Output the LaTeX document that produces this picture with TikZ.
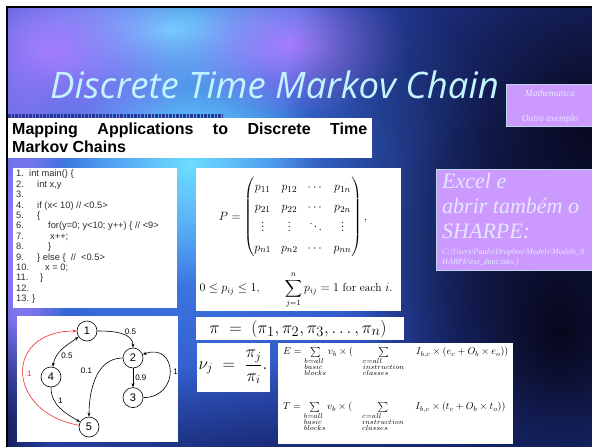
\documentclass[tikz,border=0pt]{standalone}
\usepackage{amsmath}
\usepackage{fontspec}
\usetikzlibrary{arrows.meta, positioning, fadings}

\newfontfamily\titlefont{Open Sans}
\newfontfamily\armfont{Liberation Sans}
\newfontfamily\tmsfont{Liberation Serif}

\definecolor{bgbase}{RGB}{40,68,180}
\definecolor{bgblue}{RGB}{70,140,245}
\definecolor{bgcyan}{RGB}{110,220,255}
\definecolor{bgpurple}{RGB}{165,125,255}
\definecolor{bgdark}{RGB}{8,8,28}
\definecolor{bgnavy}{RGB}{18,28,85}
\definecolor{titlecol}{RGB}{195,245,255}
\definecolor{lilac}{RGB}{204,153,255}
\definecolor{lilacedge}{RGB}{190,215,235}
\definecolor{lilactext}{RGB}{228,232,255}
\definecolor{codegray}{RGB}{45,45,45}
\definecolor{stripcol}{RGB}{40,55,150}
\definecolor{edgered}{RGB}{240,45,45}

\tikzfading[name=softglow, inner color=transparent!0, outer color=transparent!100]

% one line of the listing: indent, number, code
\newcommand{\cl}[3]{\makebox[#1pt][l]{#2}#3}

\begin{document}
\begin{tikzpicture}[
    x=1pt, y=-1pt,
    whitebox/.style={fill=white, inner sep=0pt, anchor=north west},
    lilacbox/.style={fill=lilac, draw=lilacedge, line width=0.8pt, inner sep=0pt, anchor=north west},
    glow/.style={path fading=softglow},
    state/.style={circle, draw, line width=0.6pt, fill=white, minimum size=20pt, inner sep=0pt, font=\armfont\fontsize{11}{11}\selectfont},
    prob/.style={font=\armfont\fontsize{8}{8}\selectfont, inner sep=1pt},
    arc/.style={draw, line width=0.6pt, -{Stealth[length=4pt, width=3pt]}},
    arcboth/.style={draw, line width=0.6pt, {Stealth[length=4pt, width=3pt]}-{Stealth[length=4pt, width=3pt]}}
]
\useasboundingbox (0,0) rectangle (592,447);
\fill[white] (0,0) rectangle (592,447);

% slide background
\fill[bgbase] (7,7) rectangle (592,447);
\begin{scope}
    \clip (7,7) rectangle (592,447);
    \fill[bgblue, glow] (170,190) ellipse (330 and 300);
    \fill[bgcyan, glow] (190,165) ellipse (130 and 120);
    \fill[bgcyan, glow] (170,30) ellipse (170 and 60);
    \fill[bgpurple, glow] (50,50) ellipse (150 and 110);
    \fill[bgpurple, glow] (290,45) ellipse (120 and 70);
    \fill[bgpurple, glow] (20,250) ellipse (50 and 200);
    \fill[bgdark, glow] (600,120) ellipse (320 and 320);
    \fill[bgdark, glow] (560,330) ellipse (200 and 260);
    \fill[bgnavy, glow] (320,490) ellipse (420 and 130);
    \fill[bgnavy, glow] (0,430) ellipse (50 and 110);
\end{scope}
\draw[black, line width=1.6pt] (7,447) -- (7,7) -- (592,7);

% title
\node[anchor=base west, inner sep=0pt, text=titlecol,
      font=\titlefont\itshape\fontsize{36.5}{36.5}\selectfont] (title) at (50,98) {Discrete Time Markov Chain};

% boxes on the right
\node[lilacbox, minimum width=90pt, minimum height=42pt] (mathbox) at (506,84) {};
\node[anchor=base, text=lilactext, font=\tmsfont\itshape\fontsize{9.5}{9.5}\selectfont] (mathtxt) at (550,96) {Mathematica};
\node[anchor=base, text=lilactext, font=\tmsfont\itshape\fontsize{9.5}{9.5}\selectfont] (othertxt) at (550,121) {Outro exemplo};

\node[lilacbox, minimum width=160pt, minimum height=101pt] (excelbox) at (436,169) {};
\node[anchor=north west, inner sep=0pt, align=left, text=lilactext,
      font=\tmsfont\itshape\fontsize{22}{25}\selectfont] (exceltxt) at (442,173) {Excel e\\abrir também o\\SHARPE:};
\node[anchor=north west, inner sep=0pt, align=left, text=lilactext,
      font=\tmsfont\itshape\fontsize{8.1}{10}\selectfont] (pathtxt) at (442,249)
      {C:\textbackslash Users\textbackslash Paulo\textbackslash Dropbox\textbackslash Models\textbackslash Models\_S\\HARPE\textbackslash ext\_dtmc.mks )};

% heading
\draw[stripcol, line width=3.5pt, dash pattern=on 2.5pt off 1pt] (8,116) -- (222,116);
\node[whitebox, minimum width=364pt, minimum height=40pt] (headbox) at (8,118) {};
\node[anchor=base west, inner sep=0pt, font=\armfont\bfseries\fontsize{16}{16}\selectfont] (headtxt) at (12,134)
      {\makebox[355pt][s]{Mapping\hfill Applications\hfill to\hfill Discrete\hfill Time}};
\node[anchor=base west, inner sep=0pt, font=\armfont\bfseries\fontsize{16}{16}\selectfont] (headtxt2) at (12,152)
      {Markov Chains};

% listing
\node[whitebox, minimum width=164pt, minimum height=140pt] (codebox) at (13,168) {};
\node[anchor=north west, inner sep=0pt, align=left, text=codegray,
      font=\armfont\fontsize{9.3}{10.4}\selectfont] (code) at (16,170) {%
\cl{13}{1.}{int main() \{}\\
\cl{21}{2.}{int x,y}\\
\cl{21}{3.}{}\\
\cl{21}{4.}{if (x< 10) // <0.5>}\\
\cl{21}{5.}{\{}\\
\cl{32}{6.}{for(y=0; y<10; y++) \{ // <9>}\\
\cl{34}{7.}{x++;}\\
\cl{32}{8.}{\}}\\
\cl{21}{9.}{\} else \{ \ // \ <0.5>}\\
\cl{29}{10.}{x = 0;}\\
\cl{24}{11.}{\}}\\
\cl{16}{12.}{}\\
\cl{16}{13.}{\}}};

% transition matrix
\node[whitebox, minimum width=205pt, minimum height=143pt] (matbox) at (196,168) {};
\node[inner sep=0pt] (pmat) at (293,217) {\fontsize{12.5}{14}\selectfont
  $\renewcommand{\arraystretch}{1.4}
   P=\begin{pmatrix} p_{11} & p_{12} & \cdots & p_{1n}\\ p_{21} & p_{22} & \cdots & p_{2n}\\
     \vdots & \vdots & \ddots & \vdots\\ p_{n1} & p_{n2} & \cdots & p_{nn}\end{pmatrix},$};
\node[inner sep=0pt] (rowsum) at (296,290) {\fontsize{11.5}{13}\selectfont
  $0\le p_{ij}\le 1,\qquad \displaystyle\sum_{j=1}^{n} p_{ij}=1$ for each $i$.};

% stationary vector
\node[whitebox, minimum width=208pt, minimum height=23pt] (pibox) at (196,317) {};
\node[inner sep=0pt] (pitxt) at (298,329) {\fontsize{19}{19}\selectfont
  $\pi\;=\;(\pi_1,\pi_2,\pi_3,\ldots,\pi_n)$};

\node[whitebox, minimum width=73pt, minimum height=49pt] (nubox) at (197,343) {};
\node[inner sep=0pt] (nutxt) at (233,367) {\fontsize{17}{17}\selectfont
  $\nu_j\;=\;\dfrac{\pi_j}{\pi_i}.$};

% energy and time
\node[whitebox, minimum width=235pt, minimum height=101pt] (etbox) at (278,343) {};
\node[anchor=west, inner sep=0pt] (etxt) at (283,362) {\fontsize{10}{12}\selectfont
  $E=\sum\limits_{\begin{subarray}{l} b=all\\ basic\\ blocks\end{subarray}} v_b\times(\quad
     \sum\limits_{\begin{subarray}{l} c=all\\ instruction\\ classes\end{subarray}}\quad
     I_{b,c}\times(e_c+O_b\times e_o))$};
\node[anchor=west, inner sep=0pt] (ttxt) at (283,417) {\fontsize{10}{12}\selectfont
  $T=\sum\limits_{\begin{subarray}{l} b=all\\ basic\\ blocks\end{subarray}} v_b\times(\quad
     \sum\limits_{\begin{subarray}{l} c=all\\ instruction\\ classes\end{subarray}}\quad
     I_{b,c}\times(t_c+O_b\times t_o))$};

% chain graph
\node[whitebox, minimum width=161pt, minimum height=126pt] (graphbox) at (17,316) {};
\node[state] (n1) at (87,331) {1};
\node[state] (n2) at (133,358) {2};
\node[state, below=19pt of n2] (n3) {3};
\node[state] (n4) at (51,377) {4};
\node[state] (n5) at (89,427) {5};

\path[arc] (n1) to[out=0, in=90] node[prob, pos=0.62, above right=0pt and -2pt] {0.5} (n2);
\path[arcboth] (n1) to[out=215, in=80] node[prob, pos=0.7, right=3pt] {0.5} (n4);
\path[arc] (n2) -- node[prob, right=1pt] {0.9} (n3);
\path[arc] (n3) to[out=0, in=20, looseness=2.2] node[prob, right=2pt] {1} (n2);
\path[arc] (n2) to[out=180, in=90] node[prob, pos=0.4, left=6pt] {0.1} (n5);
\path[arc] (n4) to[out=-90, in=150] node[prob, pos=0.4, above right] {1} (n5);
\path[arc, edgered] (n5) to[out=170, in=180, looseness=2] node[prob, text=edgered, pos=0.5, right=3pt] {1} (n1);
\end{tikzpicture}
\end{document}
